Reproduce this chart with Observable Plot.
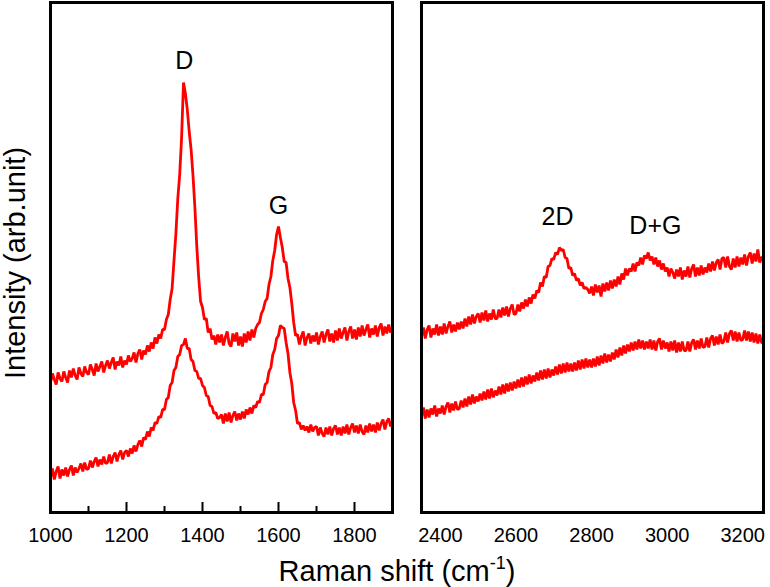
<!DOCTYPE html>
<html>
<head>
<meta charset="utf-8">
<script src="https://cdn.jsdelivr.net/npm/d3@7"></script>
<script src="https://cdn.jsdelivr.net/npm/@observablehq/plot@0.6"></script>
<style>
  html, body { margin: 0; padding: 0; background: #fff; }
  #chart { position: relative; width: 770px; height: 587px; background: #fff;
           font-family: "Liberation Sans", Arial, sans-serif; }
  #chart > * { position: absolute; top: 0; }
</style>
</head>
<body>
<div id="chart"></div>
<script>
// Raman spectra, sampled every 5 cm^-1 (intensity in arbitrary units)
const step = 5;

// 1000–1900 cm^-1 window
const lowStart = 1000;
const lowUpper = [
  130,139,133,128,140,134,131,141,135,130,
  142,135,144,137,133,145,139,136,146,140,
  138,148,143,137,149,141,146,151,140,147,
  152,144,150,155,143,151,147,156,145,152,
  148,157,151,154,160,150,159,163,153,162,
  158,167,161,170,164,175,169,178,174,183,
  183,193,198,213,224,252,279,314,338,375,
  430,419,403,381,363,337,305,266,235,211,
  205,193,194,180,184,173,177,168,178,170,
  178,167,175,181,169,166,179,171,180,167,
  176,166,179,170,181,172,183,175,184,188,
  190,199,203,211,214,228,236,252,262,278,
  286,275,265,251,250,234,225,209,190,177,
  178,168,176,181,167,175,179,169,177,171,
  180,168,176,181,170,178,183,171,179,170,
  182,172,184,174,180,185,172,181,186,174,
  183,173,185,176,187,177,183,188,175,184,
  178,187,176,185,189,177,186,179,188,180,
  183
];
const lowLower = [
  35,44,33,41,46,34,43,37,45,36,
  43,47,37,45,40,44,49,41,50,43,
  44,52,45,51,55,46,53,48,56,49,
  50,58,49,56,60,51,58,62,53,60,
  62,56,64,59,67,61,68,72,66,75,
  73,81,76,85,82,90,89,96,95,103,
  103,113,115,127,130,142,145,156,158,167,
  168,174,164,164,153,151,142,141,134,134,
  127,125,117,116,107,106,99,100,94,95,
  98,89,99,91,100,90,97,101,92,99,
  93,101,94,103,98,105,99,107,105,111,
  110,118,118,128,130,141,145,158,163,174,
  177,187,185,184,170,159,140,129,110,102,
  89,90,83,87,82,86,80,88,81,85,
  86,77,85,79,76,85,78,86,77,84,
  87,78,85,77,86,79,88,78,85,89,
  80,87,79,88,81,78,87,80,89,81,
  88,80,90,82,89,93,83,91,94,86,
  91
];

// 2350–3250 cm^-1 window
const highStart = 2350;
const highUpper = [
  176,185,174,183,187,175,184,178,188,177,
  186,178,189,179,186,191,180,188,181,190,
  183,191,184,194,186,196,188,198,189,196,
  199,190,200,192,202,191,199,193,203,194,
  194,203,195,205,197,206,196,204,208,198,
  199,208,201,210,204,213,206,215,209,218,
  214,222,220,230,226,236,235,246,247,254,
  253,260,258,265,262,263,255,254,244,245,
  237,239,232,234,227,230,224,225,223,219,
  226,217,228,220,227,216,229,221,230,222,
  232,224,233,226,236,228,239,233,244,237,
  244,241,249,241,250,247,255,248,257,254,
  260,252,256,248,255,246,252,243,249,241,
  245,236,244,240,234,243,236,245,233,242,
  236,246,235,244,248,236,245,237,247,238,
  245,240,249,241,251,242,250,253,243,254,
  255,245,256,246,243,254,245,256,246,255,
  248,258,247,256,260,249,259,251,263,250,
  255
];
const highLower = [
  96,105,94,103,95,104,98,107,96,104,
  99,107,98,106,110,100,109,102,111,103,
  104,112,105,114,106,116,108,118,109,116,
  111,119,112,121,113,123,114,124,115,122,
  117,126,118,128,119,129,121,130,122,131,
  124,133,125,135,126,136,128,138,129,137,
  131,140,132,142,133,143,134,144,135,143,
  137,146,138,148,139,149,140,150,141,149,
  141,150,142,152,143,153,144,154,145,153,
  145,154,146,156,147,157,149,159,150,158,
  151,160,153,163,155,165,157,167,159,168,
  161,170,162,171,163,173,164,172,163,171,
  164,173,163,172,162,171,174,163,172,164,
  170,161,171,162,172,160,170,161,171,162,
  162,171,161,170,173,163,172,164,174,165,
  166,175,165,174,177,167,176,168,178,169,
  171,180,170,179,182,172,181,171,180,172,
  173,182,172,181,171,180,170,179,169,178,
  170
];

// Band labels
const lowBands = [
  {shift: 1352, level: 444, name: "D"},
  {shift: 1600, level: 299, name: "G"}
];
const highBands = [
  {shift: 2710, level: 288, name: "2D"},
  {shift: 2969, level: 279, name: "D+G"}
];

// Axis ticks
const lowMajor = [1000, 1200, 1400, 1600, 1800];
const lowMinor = [1100, 1300, 1500, 1700];
const highMajor = [2400, 2600, 2800, 3000, 3200];

const lowDomain = [1000, 1900];
const highDomain = [2350, 3255];
const intensityDomain = [0, 510];

const RED = "#ff0000";
const FONT = "'Liberation Sans', Arial, sans-serif";

function toRows(values, start, series) {
  return values.map((v, i) => ({shift: start + i * step, intensity: v, series}));
}

const lowRows = [...toRows(lowUpper, lowStart, "upper"), ...toRows(lowLower, lowStart, "lower")];
const highRows = [...toRows(highUpper, highStart, "upper"), ...toRows(highLower, highStart, "lower")];

function panel({rows, bands, domain, major, minor, width, marginLeft, marginRight}) {
  const marks = [
    Plot.line(rows, {x: "shift", y: "intensity", z: "series", stroke: RED, strokeWidth: 2.8, strokeLinejoin: "miter"}),
    Plot.text(bands, {x: "shift", y: "level", text: "name", fontSize: 25, lineAnchor: "bottom", fill: "#000"}),
    Plot.axisX({ticks: major, tickSize: 0, tickPadding: 15, fontSize: 20, label: null, fill: "#000",
                tickFormat: (d) => String(d)}),
    Plot.frame({stroke: "#000", strokeWidth: 3})
  ];
  if (minor) {
    marks.push(Plot.axisX({ticks: major, tickSize: -10, tickFormat: () => "", strokeWidth: 2, stroke: "#000", label: null}));
    marks.push(Plot.axisX({ticks: minor, tickSize: -6, tickFormat: () => "", strokeWidth: 2, stroke: "#000", label: null}));
  }
  return Plot.plot({
    width,
    height: 587,
    marginTop: 2,
    marginBottom: 75,
    marginLeft,
    marginRight,
    style: {fontFamily: FONT, fontSize: "20px", background: "transparent", color: "#000", overflow: "visible"},
    x: {domain},
    y: {domain: intensityDomain, axis: null},
    marks
  });
}

const chart = document.getElementById("chart");

const left = panel({rows: lowRows, bands: lowBands, domain: lowDomain, major: lowMajor, minor: lowMinor,
                    width: 400, marginLeft: 50, marginRight: 8});
left.style.left = "0px";
chart.appendChild(left);

const right = panel({rows: highRows, bands: highBands, domain: highDomain, major: highMajor, minor: null,
                     width: 370, marginLeft: 21, marginRight: 7});
right.style.left = "400px";
chart.appendChild(right);

// Shared axis titles
const titles = d3.create("svg")
  .attr("width", 770).attr("height", 587)
  .style("left", "0px").style("overflow", "visible").style("pointer-events", "none")
  .attr("font-family", FONT).attr("fill", "#000");

const xt = titles.append("text")
  .attr("x", 397).attr("y", 581).attr("text-anchor", "middle").attr("font-size", 29);
xt.append("tspan").text("Raman shift (cm");
xt.append("tspan").attr("font-size", 18).attr("dy", -12).text("-1");
xt.append("tspan").attr("dy", 12).text(")");

titles.append("text")
  .attr("transform", "translate(25,263) rotate(-90)")
  .attr("text-anchor", "middle").attr("font-size", 29)
  .text("Intensity (arb.unit)");

chart.appendChild(titles.node());
</script>
</body>
</html>
